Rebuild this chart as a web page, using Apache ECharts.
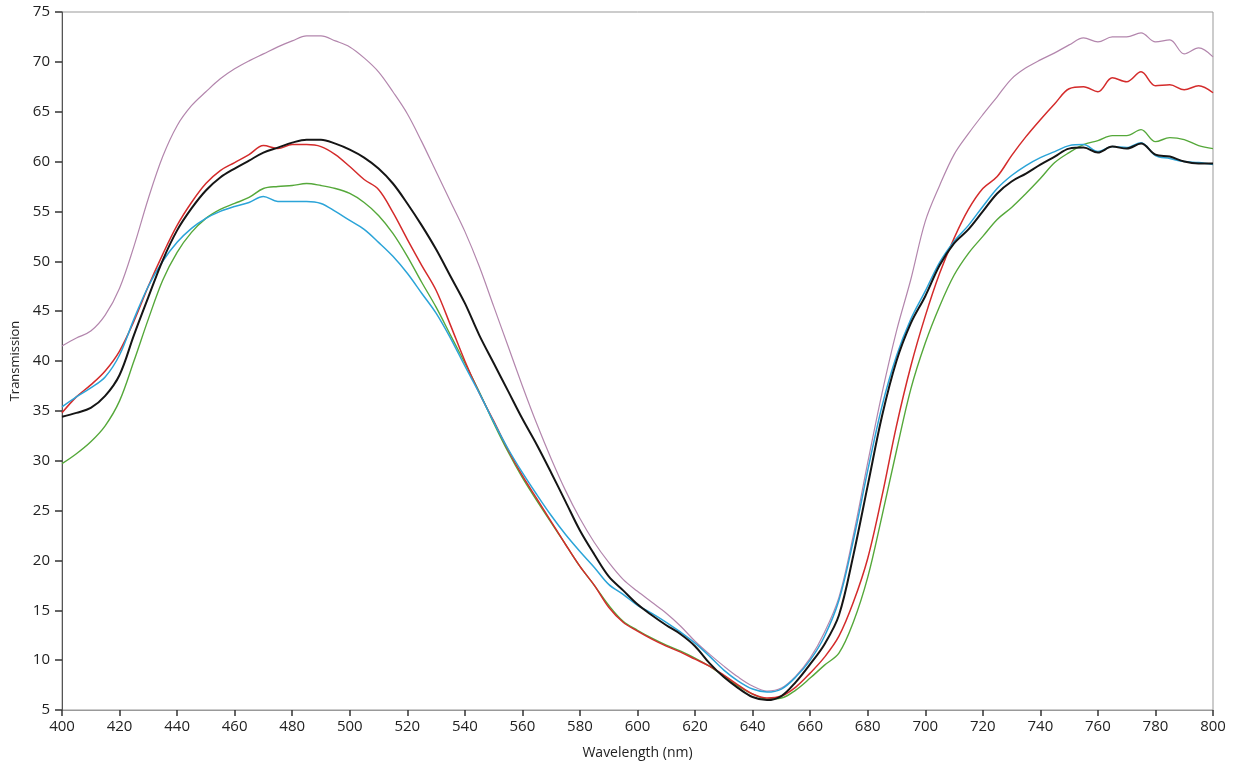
<!DOCTYPE html>
<html>
<head>
<meta charset="utf-8">
<script src="https://cdn.jsdelivr.net/npm/echarts@6/dist/echarts.min.js"></script>
<style>
html,body{margin:0;padding:0;background:#fff;}
#chart{width:1243px;height:769px;}
</style>
</head>
<body>
<div id="chart"></div>
<script>
// Wavelength samples (nm)
const wavelengths = [];
for (let w = 400; w <= 800; w += 5) wavelengths.push(w);

const purple = [41.5,42.3,43.0,44.6,47.3,51.5,56.3,60.5,63.6,65.6,67.0,68.3,69.3,70.1,70.8,71.5,72.1,72.6,72.6,72.1,71.5,70.4,69.0,67.0,64.8,62.0,59.0,56.0,53.0,49.5,45.5,41.5,37.5,33.7,30.2,27.0,24.2,21.8,19.8,18.1,16.9,15.8,14.7,13.4,11.9,10.6,9.4,8.3,7.4,6.9,7.2,8.4,10.2,12.8,16.3,22.5,29.8,36.8,43.0,48.2,54.0,57.6,60.7,62.8,64.7,66.5,68.3,69.4,70.2,70.9,71.7,72.4,72.0,72.5,72.5,72.9,72.0,72.2,70.8,71.4,70.5];
const red = [34.8,36.4,37.6,39.0,41.0,44.0,47.5,50.7,53.6,55.9,57.8,59.1,59.9,60.7,61.6,61.3,61.7,61.7,61.5,60.7,59.5,58.2,57.2,54.9,52.2,49.6,47.1,43.6,40.0,36.8,34.0,31.1,28.5,26.2,23.9,21.6,19.4,17.5,15.3,13.8,12.9,12.1,11.4,10.8,10.1,9.4,8.5,7.5,6.6,6.2,6.4,7.3,8.7,10.3,12.4,15.8,20.2,26.5,33.5,39.5,44.5,48.8,52.3,55.2,57.3,58.5,60.6,62.5,64.2,65.8,67.3,67.5,67.0,68.4,68.0,69.0,67.6,67.7,67.2,67.6,66.9];
const green = [29.7,30.7,31.9,33.5,36.0,40.0,44.2,48.1,50.9,52.9,54.3,55.2,55.8,56.4,57.3,57.5,57.6,57.8,57.6,57.3,56.8,55.9,54.6,52.8,50.5,47.9,45.4,42.6,39.8,36.9,33.8,30.9,28.3,26.0,23.8,21.6,19.4,17.5,15.5,13.9,13.0,12.2,11.5,10.9,10.2,9.4,8.4,7.4,6.6,6.1,6.2,7.0,8.2,9.5,10.7,13.8,18.3,24.5,31.0,37.2,41.8,45.5,48.6,50.8,52.5,54.2,55.4,56.8,58.3,59.9,60.9,61.7,62.1,62.6,62.6,63.2,62.0,62.4,62.2,61.6,61.3];
const cyan = [35.4,36.4,37.3,38.4,40.6,44.2,47.5,50.0,51.9,53.3,54.3,55.0,55.5,55.9,56.5,56.0,56.0,56.0,55.8,55.0,54.1,53.2,51.9,50.5,48.8,46.8,44.8,42.3,39.5,36.8,33.9,31.2,28.8,26.6,24.5,22.6,20.9,19.3,17.6,16.6,15.5,14.7,13.8,12.8,11.7,10.4,9.0,7.9,7.1,6.8,7.1,8.3,10.0,12.4,16.0,22.0,29.0,35.5,40.5,44.2,47.0,49.9,52.0,53.6,55.5,57.3,58.6,59.6,60.4,61.0,61.6,61.7,61.0,61.5,61.4,61.9,60.6,60.3,60.0,59.9,59.7];
const black = [34.4,34.8,35.3,36.5,38.6,42.6,46.4,50.1,53.1,55.3,57.1,58.4,59.3,60.1,60.9,61.4,61.9,62.2,62.2,61.8,61.2,60.4,59.3,57.8,55.8,53.6,51.2,48.5,45.8,42.6,39.8,37.0,34.2,31.6,28.8,25.9,23.0,20.6,18.4,17.0,15.6,14.5,13.5,12.6,11.4,9.7,8.3,7.2,6.3,6.0,6.4,7.8,9.6,11.6,14.5,20.5,27.5,34.5,40.0,43.8,46.5,49.6,51.8,53.2,55.0,56.8,58.0,58.8,59.7,60.5,61.3,61.4,60.9,61.5,61.3,61.8,60.7,60.5,60.0,59.8,59.8];

const xTicks = {min: 400, max: 800, step: 20};
const yTicks = {min: 5, max: 75, step: 5};

function pairs(vals){ return wavelengths.map((w,i)=>[w, vals[i]]); }

const chart = echarts.init(document.getElementById('chart'), null, {renderer:'canvas'});
const FONT = 'Open Sans';
function line(name, vals, color, width){
  return {name, type:'line', data: pairs(vals), showSymbol:false, smooth:0.35,
    lineStyle:{color, width}, itemStyle:{color}, z: 2};
}
chart.setOption({
  animation:false,
  backgroundColor:'#fff',
  grid:{left:62, right:30, top:12, bottom:59, show:true, borderColor:'#999', borderWidth:1},
  xAxis:{type:'value', min:xTicks.min, max:xTicks.max, interval:xTicks.step,
    name:'Wavelength (nm)', nameLocation:'middle', nameGap:36,
    nameTextStyle:{fontFamily:FONT, fontSize:14, color:'#222'},
    axisLine:{show:true, lineStyle:{color:'#999', width:1}},
    axisTick:{show:true, length:6, lineStyle:{color:'#333', width:1.5}},
    axisLabel:{fontFamily:FONT, fontSize:15, color:'#222', margin:9},
    splitLine:{show:false}},
  yAxis:{type:'value', min:yTicks.min, max:yTicks.max, interval:yTicks.step,
    name:'Transmission', nameLocation:'middle', nameGap:38, nameRotate:90,
    nameTextStyle:{fontFamily:FONT, fontSize:13, color:'#222'},
    axisLine:{show:true, lineStyle:{color:'#555', width:1}},
    axisTick:{show:true, length:7, lineStyle:{color:'#333', width:1.5}},
    axisLabel:{fontFamily:FONT, fontSize:15, color:'#222', margin:12},
    splitLine:{show:false}},
  series:[
    line('purple', purple, '#b386ad', 1.2),
    line('green', green, '#55a83a', 1.4),
    line('red', red, '#d42b2b', 1.5),
    line('cyan', cyan, '#2ba4d8', 1.5),
    line('black', black, '#151515', 2)
  ]
});
</script>
</body>
</html>
